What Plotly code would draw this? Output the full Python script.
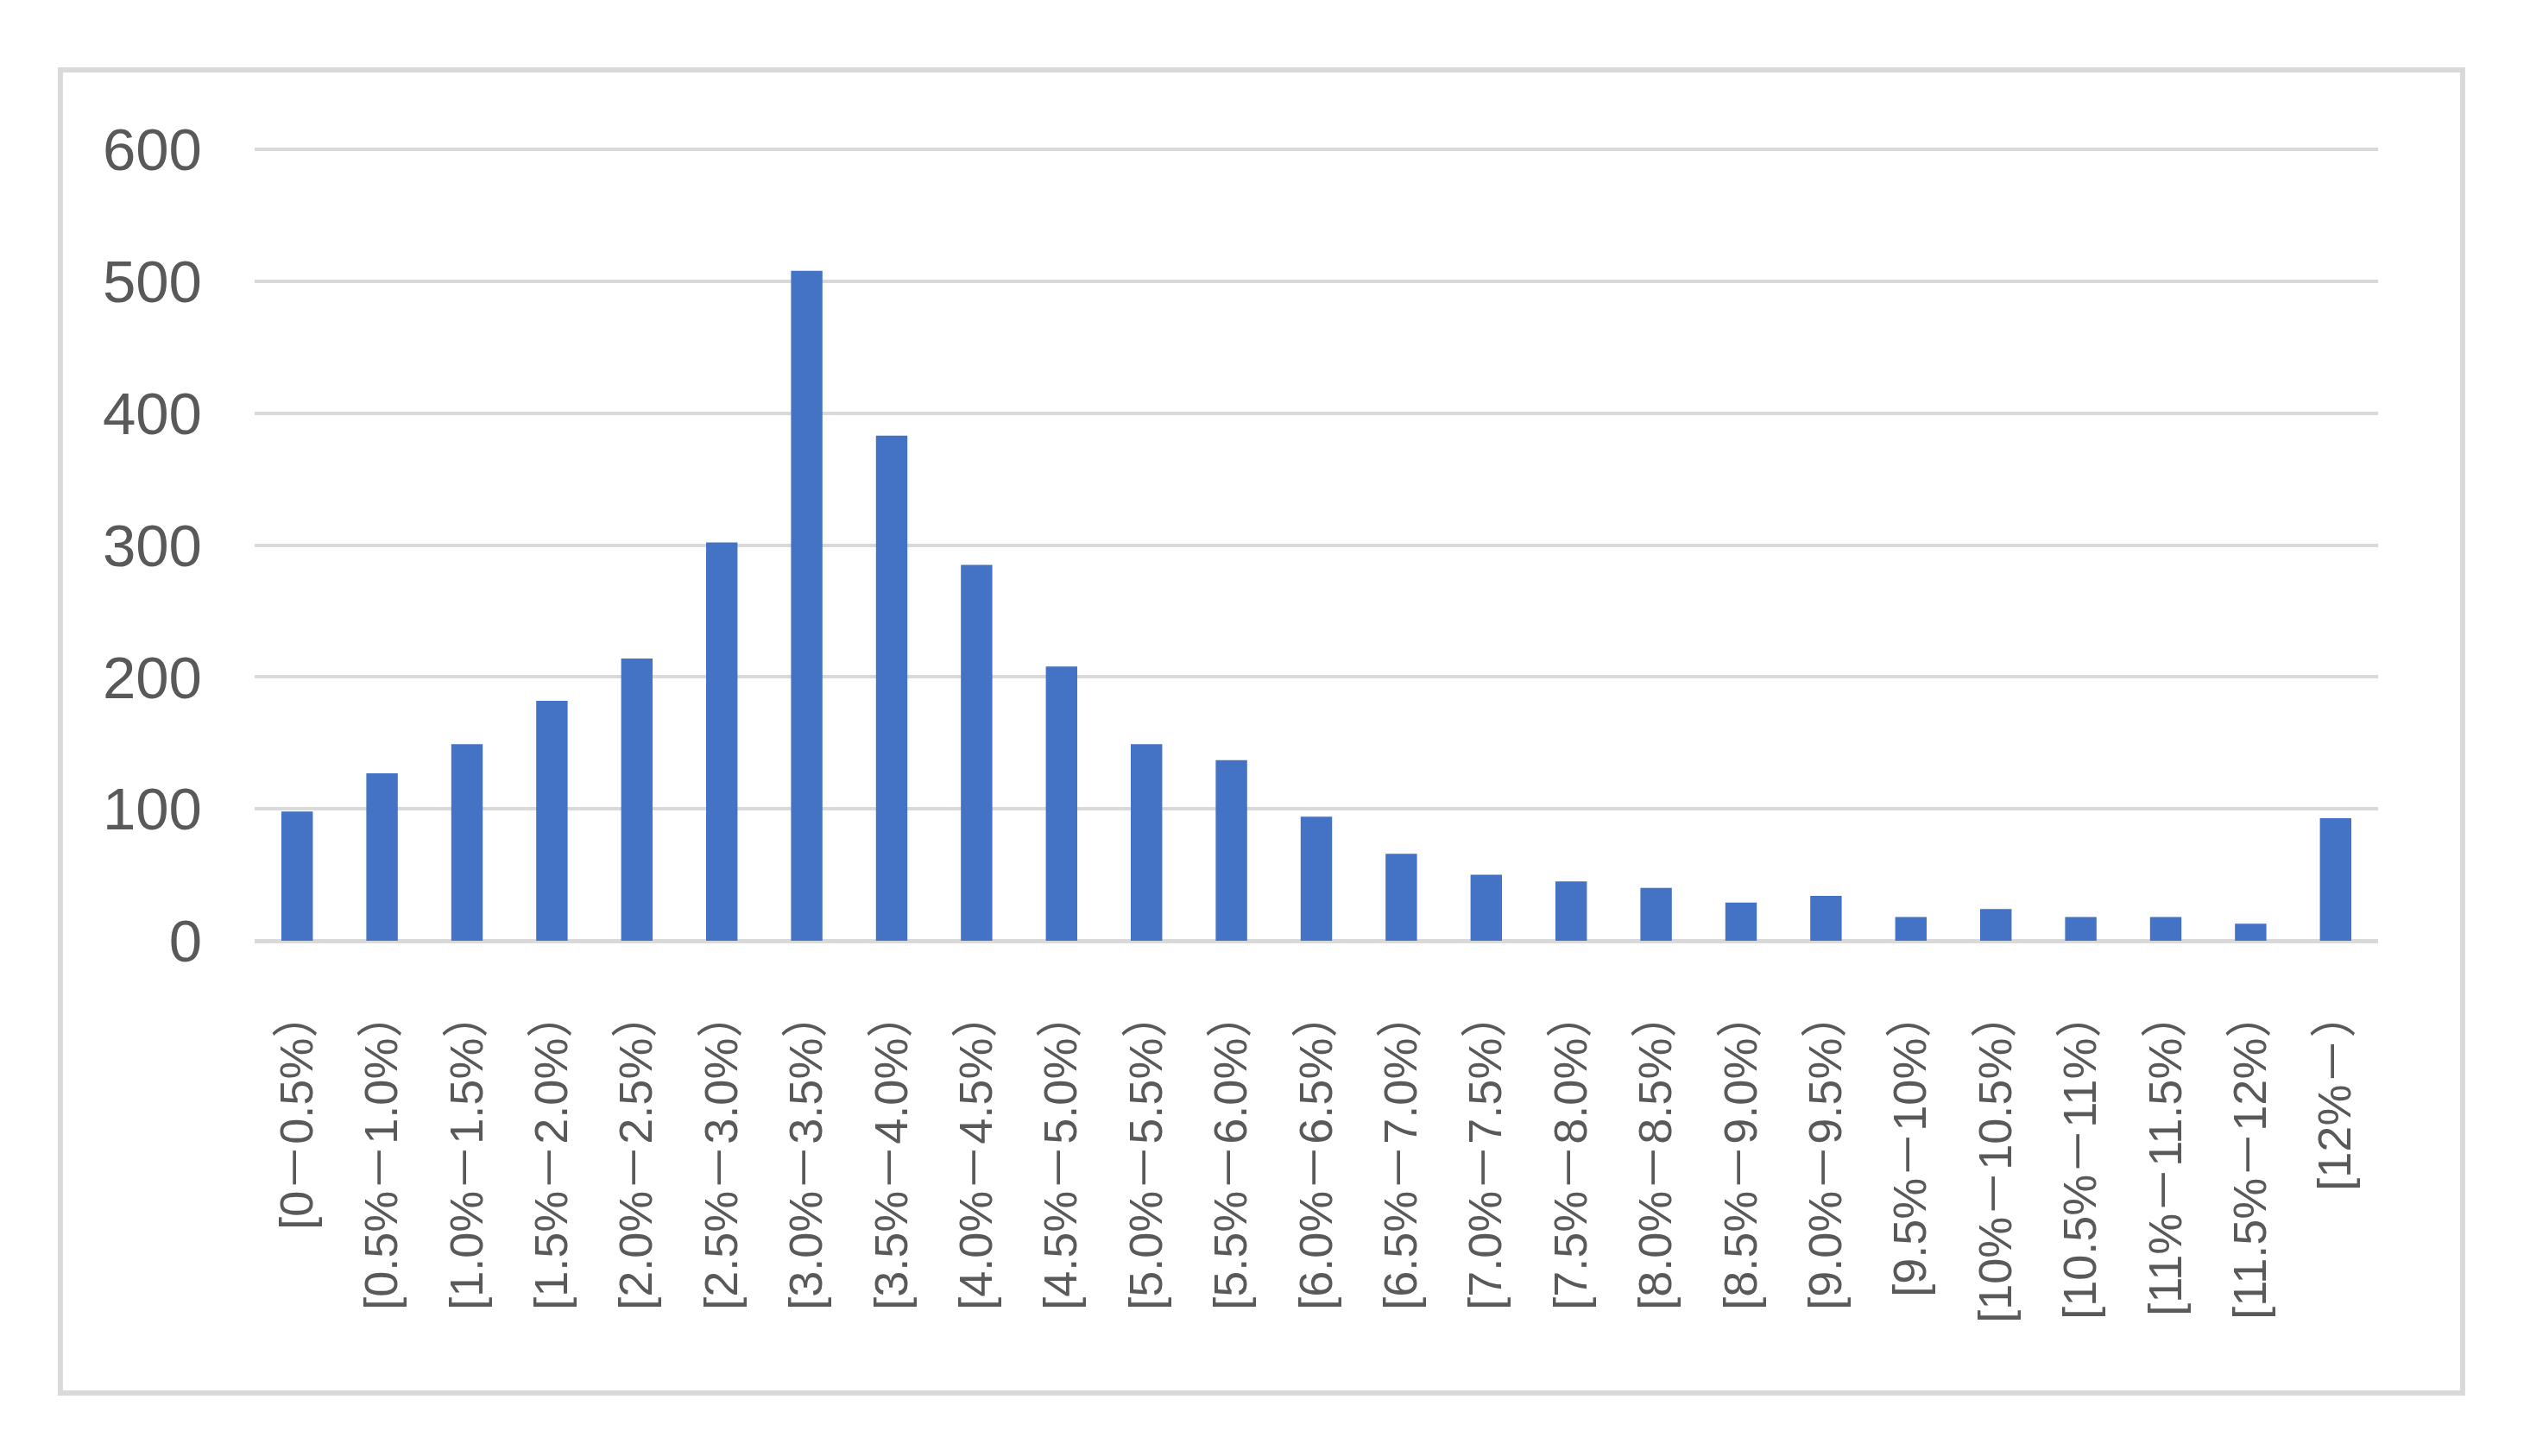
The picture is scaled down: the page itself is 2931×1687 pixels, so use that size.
import plotly.graph_objects as go

# bins of the distribution (full-width dash / bracket as in the original)
categories = [
    "[0－0.5%）", "[0.5%－1.0%）", "[1.0%－1.5%）", "[1.5%－2.0%）",
    "[2.0%－2.5%）", "[2.5%－3.0%）", "[3.0%－3.5%）", "[3.5%－4.0%）",
    "[4.0%－4.5%）", "[4.5%－5.0%）", "[5.0%－5.5%）", "[5.5%－6.0%）",
    "[6.0%－6.5%）", "[6.5%－7.0%）", "[7.0%－7.5%）", "[7.5%－8.0%）",
    "[8.0%－8.5%）", "[8.5%－9.0%）", "[9.0%－9.5%）", "[9.5%－10%）",
    "[10%－10.5%）", "[10.5%－11%）", "[11%－11.5%）", "[11.5%－12%）",
    "[12%－）",
]
counts = [98, 127, 149, 182, 214, 302, 508, 383, 285, 208, 149, 137,
          94, 66, 50, 45, 40, 29, 34, 18, 24, 18, 18, 13, 93]
y_ticks = [0, 100, 200, 300, 400, 500, 600]

FONT = "Liberation Sans, Noto Sans CJK SC, sans-serif"
GREY_TEXT = "#595959"
GRID = "#D9D9D9"

fig = go.Figure()
fig.add_trace(go.Bar(
    x=categories,
    y=counts,
    marker=dict(color="#4472C4", line=dict(width=0)),
    showlegend=False,
))

# page has an 8px body margin, margins below are compensated for it
fig.update_layout(
    width=2931,
    height=1687,
    margin=dict(l=287, r=184, t=159, b=605, autoexpand=False),
    paper_bgcolor="white",
    plot_bgcolor="white",
    bargap=0.63,
    font=dict(family=FONT, color=GREY_TEXT),
    xaxis=dict(
        type="category",
        tickangle=-90,
        tickfont=dict(size=54, color=GREY_TEXT),
        showgrid=False,
        showline=False,
        ticks="outside",
        ticklen=36,
        tickcolor="rgba(0,0,0,0)",
    ),
    yaxis=dict(
        range=[0, 604],
        tickvals=y_ticks,
        tickfont=dict(size=69, color=GREY_TEXT),
        showgrid=True,
        gridcolor=GRID,
        gridwidth=4,
        zeroline=True,
        zerolinecolor=GRID,
        zerolinewidth=5,
        showline=False,
        ticklabelstandoff=60,
    ),
)

# light grey outer chart frame
fig.add_shape(
    type="rect", xref="paper", yref="paper",
    x0=-0.0915, x1=1.0398, y0=-0.5677, y1=1.0931,
    line=dict(color=GRID, width=6),
    fillcolor="rgba(0,0,0,0)",
    layer="below",
)

fig.write_html("out.html")
